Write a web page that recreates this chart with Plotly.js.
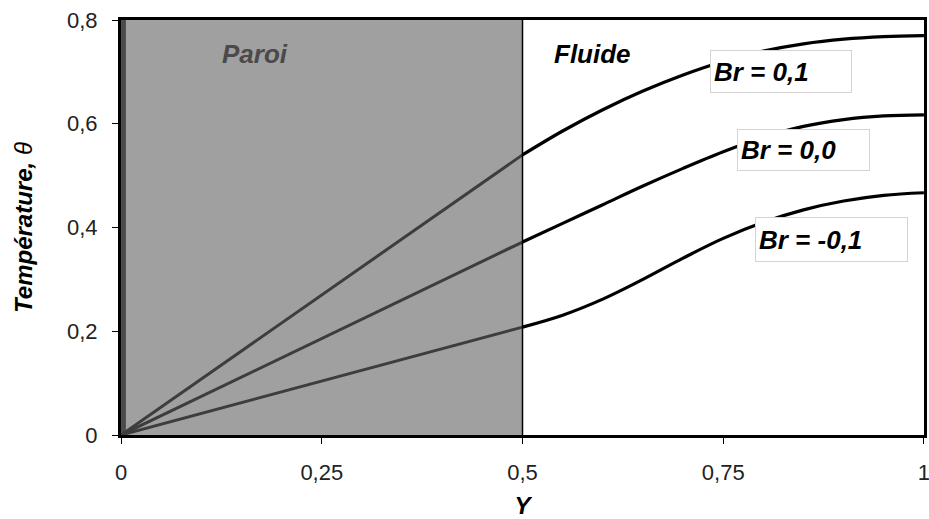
<!DOCTYPE html>
<html>
<head>
<meta charset="utf-8">
<script src="https://cdn.plot.ly/plotly-3.0.1.min.js"></script>
<style>html,body{margin:0;padding:0;background:#fff;}#chart{width:929px;height:519px;}</style>
</head>
<body>
<div id="chart"></div>
<script>
// Wall region (Paroi): linear profiles from Y=0 to the interface at Y=0.5
const wallY = [0, 0.5];
// Fluid region (Fluide)
const fluidY = [0.5, 0.55, 0.6, 0.65, 0.7, 0.75, 0.8, 0.85, 0.9, 0.95, 1.0];

const seriesNames = ["Br = 0,1", "Br = 0,0", "Br = -0,1"];
const wallBrP = [0, 0.540];
const wallBr0 = [0, 0.372];
const wallBrM = [0, 0.208];
const fluidBrP = [0.540, 0.586, 0.627, 0.663, 0.694, 0.720, 0.740, 0.754, 0.763, 0.768, 0.770];
const fluidBr0 = [0.372, 0.408, 0.444, 0.480, 0.514, 0.546, 0.574, 0.595, 0.608, 0.615, 0.617];
const fluidBrM = [0.208, 0.231, 0.262, 0.300, 0.341, 0.379, 0.410, 0.434, 0.451, 0.462, 0.467];

const xTickVals = [0, 0.25, 0.5, 0.75, 1];
const xTickText = ["0", "0,25", "0,5", "0,75", "1"];
const yTickVals = [0, 0.2, 0.4, 0.6, 0.8];
const yTickText = ["0", "0,2", "0,4", "0,6", "0,8"];

const FONT = "Liberation Sans, Arial, sans-serif";
const wallColor = "#3d3d3d";
const fluidColor = "#000000";

const wallSets = [wallBrP, wallBr0, wallBrM];
const fluidSets = [fluidBrP, fluidBr0, fluidBrM];
const traces = [];
wallSets.forEach((ys, i) => traces.push({
  x: wallY, y: ys, type: "scatter", mode: "lines", name: seriesNames[i],
  line: {color: wallColor, width: 3}, showlegend: false, hoverinfo: "skip"
}));
fluidSets.forEach((ys, i) => traces.push({
  x: fluidY, y: ys, type: "scatter", mode: "lines", name: seriesNames[i],
  line: {color: fluidColor, width: 3.2, shape: "spline", smoothing: 1}, showlegend: false
}));

const labelFont = {family: FONT, size: 26, color: "#000"};
const boxBase = {xref: "x", yref: "y", showarrow: false, bgcolor: "#ffffff",
  bordercolor: "#d4d4d4", borderwidth: 1, borderpad: 3, align: "left", valign: "middle", font: labelFont};

const layout = {
  width: 929, height: 519,
  margin: {l: 121, r: 5, t: 20, b: 84},
  paper_bgcolor: "#ffffff", plot_bgcolor: "#ffffff",
  showlegend: false,
  xaxis: {
    range: [-0.0001, 1.0001], tickvals: xTickVals, ticktext: xTickText,
    ticks: "outside", ticklen: 6, tickwidth: 1, tickcolor: "#000",
    showgrid: false, zeroline: false,
    showline: true, linecolor: "#000", linewidth: 3, mirror: true,
    tickfont: {family: FONT, size: 22, color: "#222"},
    ticklabelstandoff: 10, ticklabeloverflow: "allow",
    title: {text: "<b><i>Y</i></b>", font: {family: FONT, size: 24, color: "#000"}, standoff: 14}
  },
  yaxis: {
    range: [0, 0.8], tickvals: yTickVals, ticktext: yTickText,
    ticks: "outside", ticklen: 6, tickwidth: 1, tickcolor: "#000",
    showgrid: false, zeroline: false,
    showline: true, linecolor: "#000", linewidth: 3, mirror: true,
    tickfont: {family: FONT, size: 22, color: "#222"},
    ticklabelstandoff: 10, ticklabeloverflow: "allow",
    title: {text: "<b><i>Température,</i></b> <i>θ</i>", font: {family: FONT, size: 24, color: "#000"}, standoff: 28}
  },
  shapes: [
    {type: "rect", xref: "x", yref: "paper", x0: 0, x1: 0.5, y0: 0, y1: 1,
     fillcolor: "#a0a0a0", line: {width: 0}, layer: "below"},
    {type: "rect", xref: "x", yref: "paper", x0: 0, x1: 0.006, y0: 0, y1: 1,
     fillcolor: "#4a4a4a", line: {width: 0}, layer: "below"},
    {type: "line", xref: "x", yref: "paper", x0: 0.5, x1: 0.5, y0: 0, y1: 1,
     line: {color: "#000", width: 1.5}, layer: "above"}
  ],
  annotations: [
    {xref: "x", yref: "y", x: 0.167, y: 0.735, text: "<b><i>Paroi</i></b>", showarrow: false,
     font: {family: FONT, size: 26, color: "#4a4a4a"}},
    {xref: "x", yref: "y", x: 0.587, y: 0.735, text: "<b><i>Fluide</i></b>", showarrow: false,
     font: {family: FONT, size: 26, color: "#000"}},
    Object.assign({}, boxBase, {x: 0.822, y: 0.7007, text: "<b><i>" + seriesNames[0] + "</i></b>", width: 134, height: 35}),
    Object.assign({}, boxBase, {x: 0.850, y: 0.549, text: "<b><i>" + seriesNames[1] + "</i></b>", width: 125, height: 34}),
    Object.assign({}, boxBase, {x: 0.885, y: 0.377, text: "<b><i>" + seriesNames[2] + "</i></b>", width: 145, height: 37})
  ]
};

Plotly.newPlot("chart", traces, layout, {displayModeBar: false, staticPlot: true});
</script>
</body>
</html>
